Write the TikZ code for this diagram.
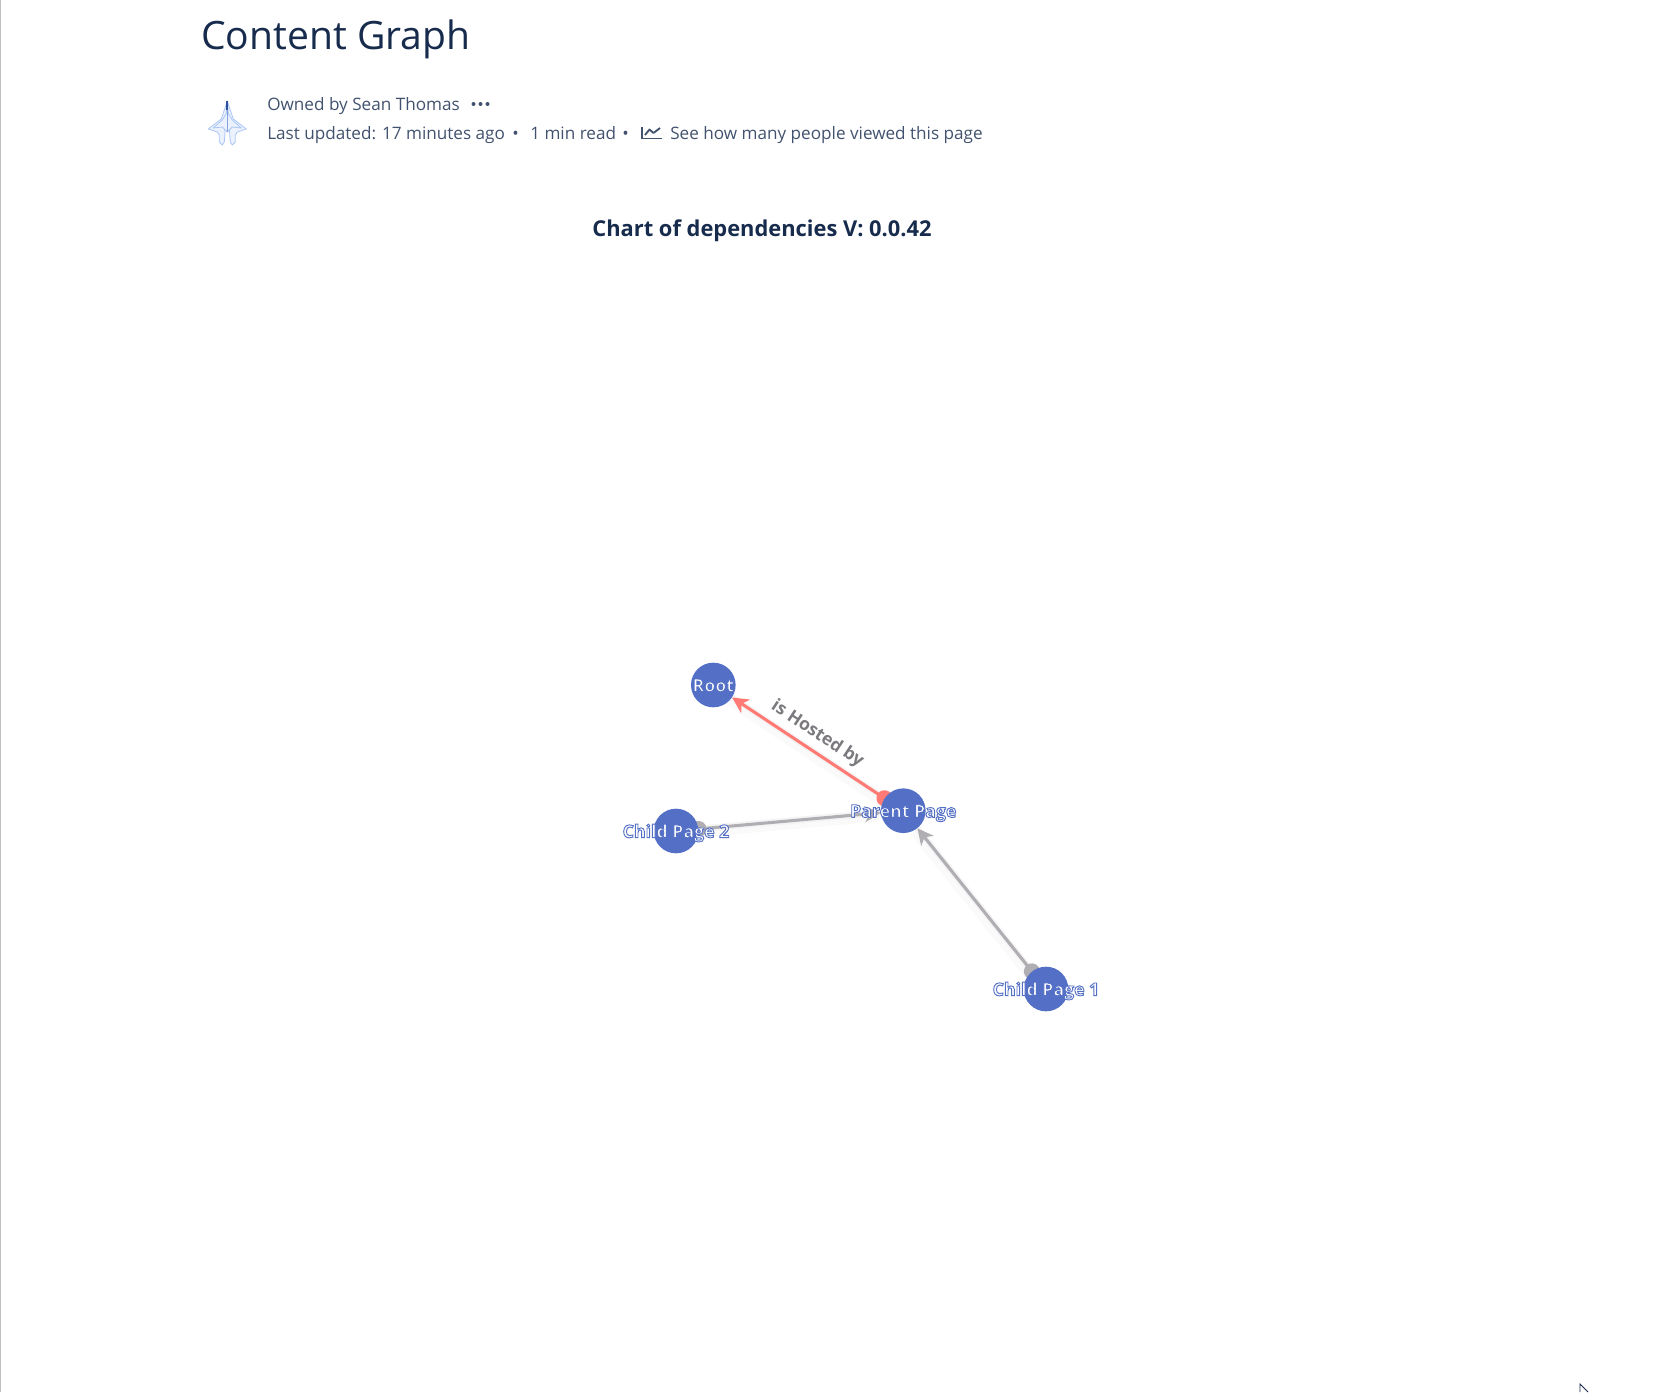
\documentclass[tikz,border=0pt]{standalone}
\usepackage{fontspec}
\setmainfont{Open Sans}
\usetikzlibrary{arrows.meta, backgrounds, positioning}
\definecolor{cgInk}{HTML}{172B4D}
\definecolor{cgMeta}{HTML}{42526E}
\definecolor{cgNode}{HTML}{5470C6}
\definecolor{cgRed}{HTML}{FF7A74}
\definecolor{cgGrey}{HTML}{B0AEB3}
\definecolor{cgLabel}{HTML}{7C7A7E}
\definecolor{cgJet}{HTML}{A9C6F5}
\definecolor{cgJetDark}{HTML}{2C4F9E}
\newcommand{\pxfont}[1]{\fontsize{#1}{#1}\selectfont}
\newcommand{\outlined}[1]{\special{pdf:code q 2 Tr 0.7 w 0.329 0.439 0.776 RG}#1\special{pdf:code Q}}
\tikzset{
  titletxt/.style  = {anchor=base west, inner sep=0pt, text=cgInk, font=\pxfont{29.3}},
  metatxt/.style   = {anchor=base west, inner sep=0pt, text=cgMeta, font=\pxfont{12.85}},
  charttxt/.style  = {anchor=base, inner sep=0pt, text=cgInk, font=\pxfont{16.4}\bfseries},
  pagenode/.style  = {circle, fill=cgNode, inner sep=0pt, minimum size=33.5pt},
  pagelbl/.style   = {inner sep=0pt, text=white, text height=10pt, text depth=0pt,
                      font=\pxfont{13.3}\bfseries},
  edgebase/.style  = {line width=2.3pt, shorten <=-6pt,
                      {Circle[length=12pt]}-{Stealth[length=12pt, width=12pt, inset=3.5pt]}},
  hostedge/.style  = {edgebase, cgRed},
  childedge/.style = {edgebase, cgGrey},
  edgeshade/.style = {line width=9pt, black, opacity=0.02,
                      transform canvas={xshift=-1.5pt, yshift=-2pt},
                      preaction={draw, line width=5pt, black, opacity=0.025}},
  edgelbl/.style   = {font=\pxfont{13.2}\bfseries, text=cgLabel, inner sep=0pt},
  jetline/.style   = {cgJet, fill=cgJet!22, line width=0.6pt, line join=round},
}
\begin{document}
\begin{tikzpicture}[x=0.75pt, y=-0.75pt]
  \useasboundingbox (0,0) rectangle (1655,1392);
  \fill[black!25] (0,0) rectangle (1.3,1392);

  % page header
  \node[titletxt] (title) at (201,49) {Content Graph};
  \node[metatxt] (owner) at (267,110) {Owned by Sean Thomas};
  \foreach \x in {473.5,480.5,487.5}
    \fill[cgMeta] (\x,104) circle (1.5pt);
  \node[metatxt] (updated) at (267,139) {Last updated: 17 minutes ago};
  \node[metatxt] (dotone) at (512,139) {•};
  \node[metatxt] (readtime) at (530,139) {1 min read};
  \node[metatxt] (dottwo) at (622,139) {•};
  \node[metatxt] (viewers) at (670,139) {See how many people viewed this page};
  \draw[cgMeta, line width=1.4pt] (642,127) -- (642,138.5) -- (662,138.5);
  \draw[cgMeta, line width=1.4pt, line join=round] (645,135) -- (649.5,129.5) -- (653.5,133) -- (660,128);

  % avatar
  \foreach \s in {-1,1} {
    \draw[jetline] (227.3,101) -- ++(\s*3,9) -- ++(\s*3,9) -- ++(\s*13,10) -- ++(\s*-9,3)
      -- ++(\s*-2,3) -- ++(\s*0,7) -- ++(\s*-3,3) -- ++(\s*-2,-3) -- cycle;
    \draw[jetline] (227.3,112) -- ++(\s*5,8) -- ++(\s*9,8) -- ++(\s*-9,-1) -- ++(\s*-5,5);
  }
  \draw[cgJetDark, line width=1.3pt] (227.3,101) -- (227.3,110);
  \draw[cgJet!70!cgJetDark, line width=1pt] (227.3,110) -- (227.3,132);

  \node[charttxt] (chart) at (762,236) {Chart of dependencies V: 0.0.42};

  % graph
  \node[pagenode, label={[pagelbl]center:\outlined{Root}}] (root) at (713.3,685) {};
  \node[pagenode, label={[pagelbl]center:\outlined{Parent Page}}] (parent) at (903.3,810.7) {};
  \node[pagenode, label={[pagelbl]center:\outlined{Child Page 2}}] (child2) at (676,831) {};
  \node[pagenode, label={[pagelbl]center:\outlined{Child Page 1}}] (child1) at (1046,989) {};

  \begin{scope}[on background layer]
    \draw[edgeshade] (parent) -- (root);
    \draw[edgeshade] (child2) -- (parent);
    \draw[edgeshade] (child1) -- (parent);
    \draw[hostedge] (parent) -- node[edgelbl, sloped, above=4.5pt] (hosted) {is Hosted by} (root);
    \draw[childedge] (child2) -- (parent);
    \draw[childedge] (child1) -- (parent);
  \end{scope}

  % mouse pointer
  \coordinate (cursor) at (1580,1384);
  \draw[cgInk, line width=0.7pt] (1580,1392) -- (cursor) -- (1588,1392);
\end{tikzpicture}
\end{document}
